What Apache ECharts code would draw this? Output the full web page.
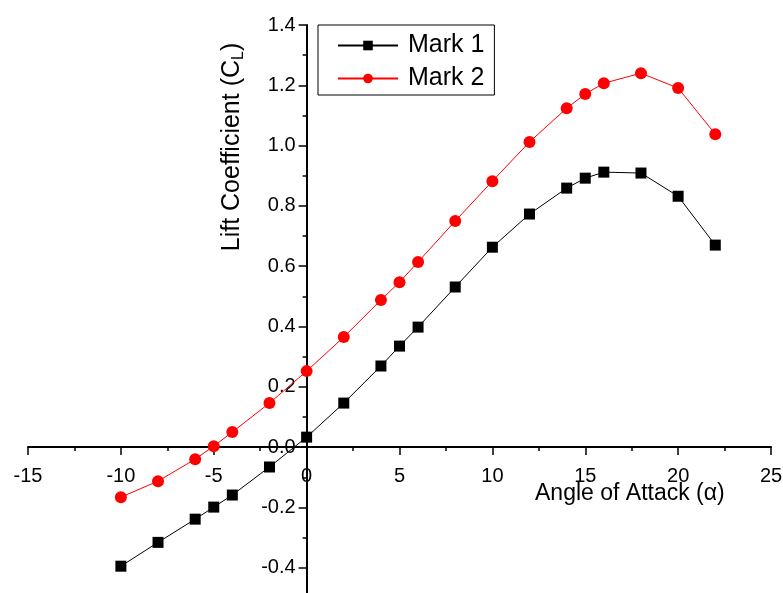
<!DOCTYPE html>
<html>
<head>
<meta charset="utf-8">
<script src="https://cdn.jsdelivr.net/npm/echarts@6/dist/echarts.min.js"></script>
<style>
  html, body { margin: 0; padding: 0; background: #fff; }
  #lift-chart { width: 783px; height: 593px; }
</style>
</head>
<body>
<div id="lift-chart"></div>
<script>
const angles = [-10, -8, -6, -5, -4, -2, 0, 2, 4, 5, 6, 8, 10, 12, 14, 15, 16, 18, 20, 22];
const mark1 = [-0.395, -0.316, -0.239, -0.199, -0.159, -0.066, 0.033, 0.146, 0.269, 0.335, 0.398, 0.531, 0.663, 0.773, 0.859, 0.892, 0.912, 0.909, 0.832, 0.670];
const mark2 = [-0.166, -0.113, -0.040, 0.003, 0.050, 0.146, 0.252, 0.365, 0.488, 0.547, 0.614, 0.750, 0.882, 1.012, 1.124, 1.171, 1.207, 1.240, 1.191, 1.038];
const seriesNames = ['Mark 1', 'Mark 2'];

const font = '"Liberation Sans", Arial, sans-serif';
const pairs = (ys) => angles.map((x, i) => [x, ys[i]]);

// axes cross at (0, 0); labels follow the lines via offset (set after first layout)
const axisCommon = {
  type: 'value',
  axisLine: { onZero: false, lineStyle: { color: '#000', width: 2 } },
  axisTick: { length: 8, lineStyle: { color: '#000', width: 1.5 } },
  minorTick: { show: true, splitNumber: 2, length: 4, lineStyle: { color: '#000', width: 1.5 } },
  splitLine: { show: false },
  axisLabel: { color: '#000', fontSize: 20, fontFamily: font, hideOverlap: false },
};

const chartOption = {
  animation: false,
  backgroundColor: '#fff',
  grid: { left: 28, right: 12, top: 25, bottom: -35, containLabel: false, outerBoundsMode: 'none' },
  legend: {
    left: 318,
    top: 25,
    orient: 'vertical',
    borderColor: '#000',
    borderWidth: 1,
    padding: [8, 10, 4, 19],
    itemGap: 8,
    itemWidth: 60,
    itemHeight: 12,
    textStyle: { color: '#000', fontSize: 25, fontFamily: font, padding: [0, 0, 0, 5] },
    data: seriesNames,
  },
  xAxis: {
    ...axisCommon,
    min: -15,
    max: 25,
    interval: 5,
    axisLabel: { ...axisCommon.axisLabel, margin: 19 },
  },
  yAxis: {
    ...axisCommon,
    min: -0.6,
    max: 1.4,
    interval: 0.2,
    axisLabel: { ...axisCommon.axisLabel, margin: 11, formatter: (v) => v.toFixed(1) },
  },
  graphic: [
    {
      type: 'text',
      x: 232,
      y: 147,
      rotation: Math.PI / 2,
      style: {
        text: 'Lift Coefficient (C{sub|L})',
        font: '25px ' + font,
        fill: '#000',
        align: 'center',
        verticalAlign: 'middle',
        rich: { sub: { fontSize: 16, fontFamily: font, padding: [13, 0, 0, 0] } },
      },
    },
    {
      type: 'text',
      x: 535,
      y: 494,
      style: {
        text: 'Angle of Attack (α)',
        font: '23px ' + font,
        fill: '#000',
        align: 'left',
        verticalAlign: 'middle',
      },
    },
  ],
  series: [
    {
      name: seriesNames[0],
      type: 'line',
      data: pairs(mark1),
      symbol: 'rect',
      symbolSize: 11,
      itemStyle: { color: '#000' },
      lineStyle: { color: '#000', width: 1 },
    },
    {
      name: seriesNames[1],
      type: 'line',
      data: pairs(mark2),
      symbol: 'circle',
      symbolSize: 12,
      itemStyle: { color: '#ff0000' },
      lineStyle: { color: '#ff0000', width: 1 },
    },
  ],
};

const myChart = echarts.init(document.getElementById('lift-chart'));
myChart.setOption(chartOption);

// move both axes onto the origin
const origin = myChart.convertToPixel({ gridIndex: 0 }, [0, 0]);
const gridRect = myChart.getModel().getComponent('grid', 0).coordinateSystem.getRect();
myChart.setOption({
  xAxis: { offset: origin[1] - (gridRect.y + gridRect.height) },
  yAxis: { offset: gridRect.x - origin[0] },
});
</script>
</body>
</html>
